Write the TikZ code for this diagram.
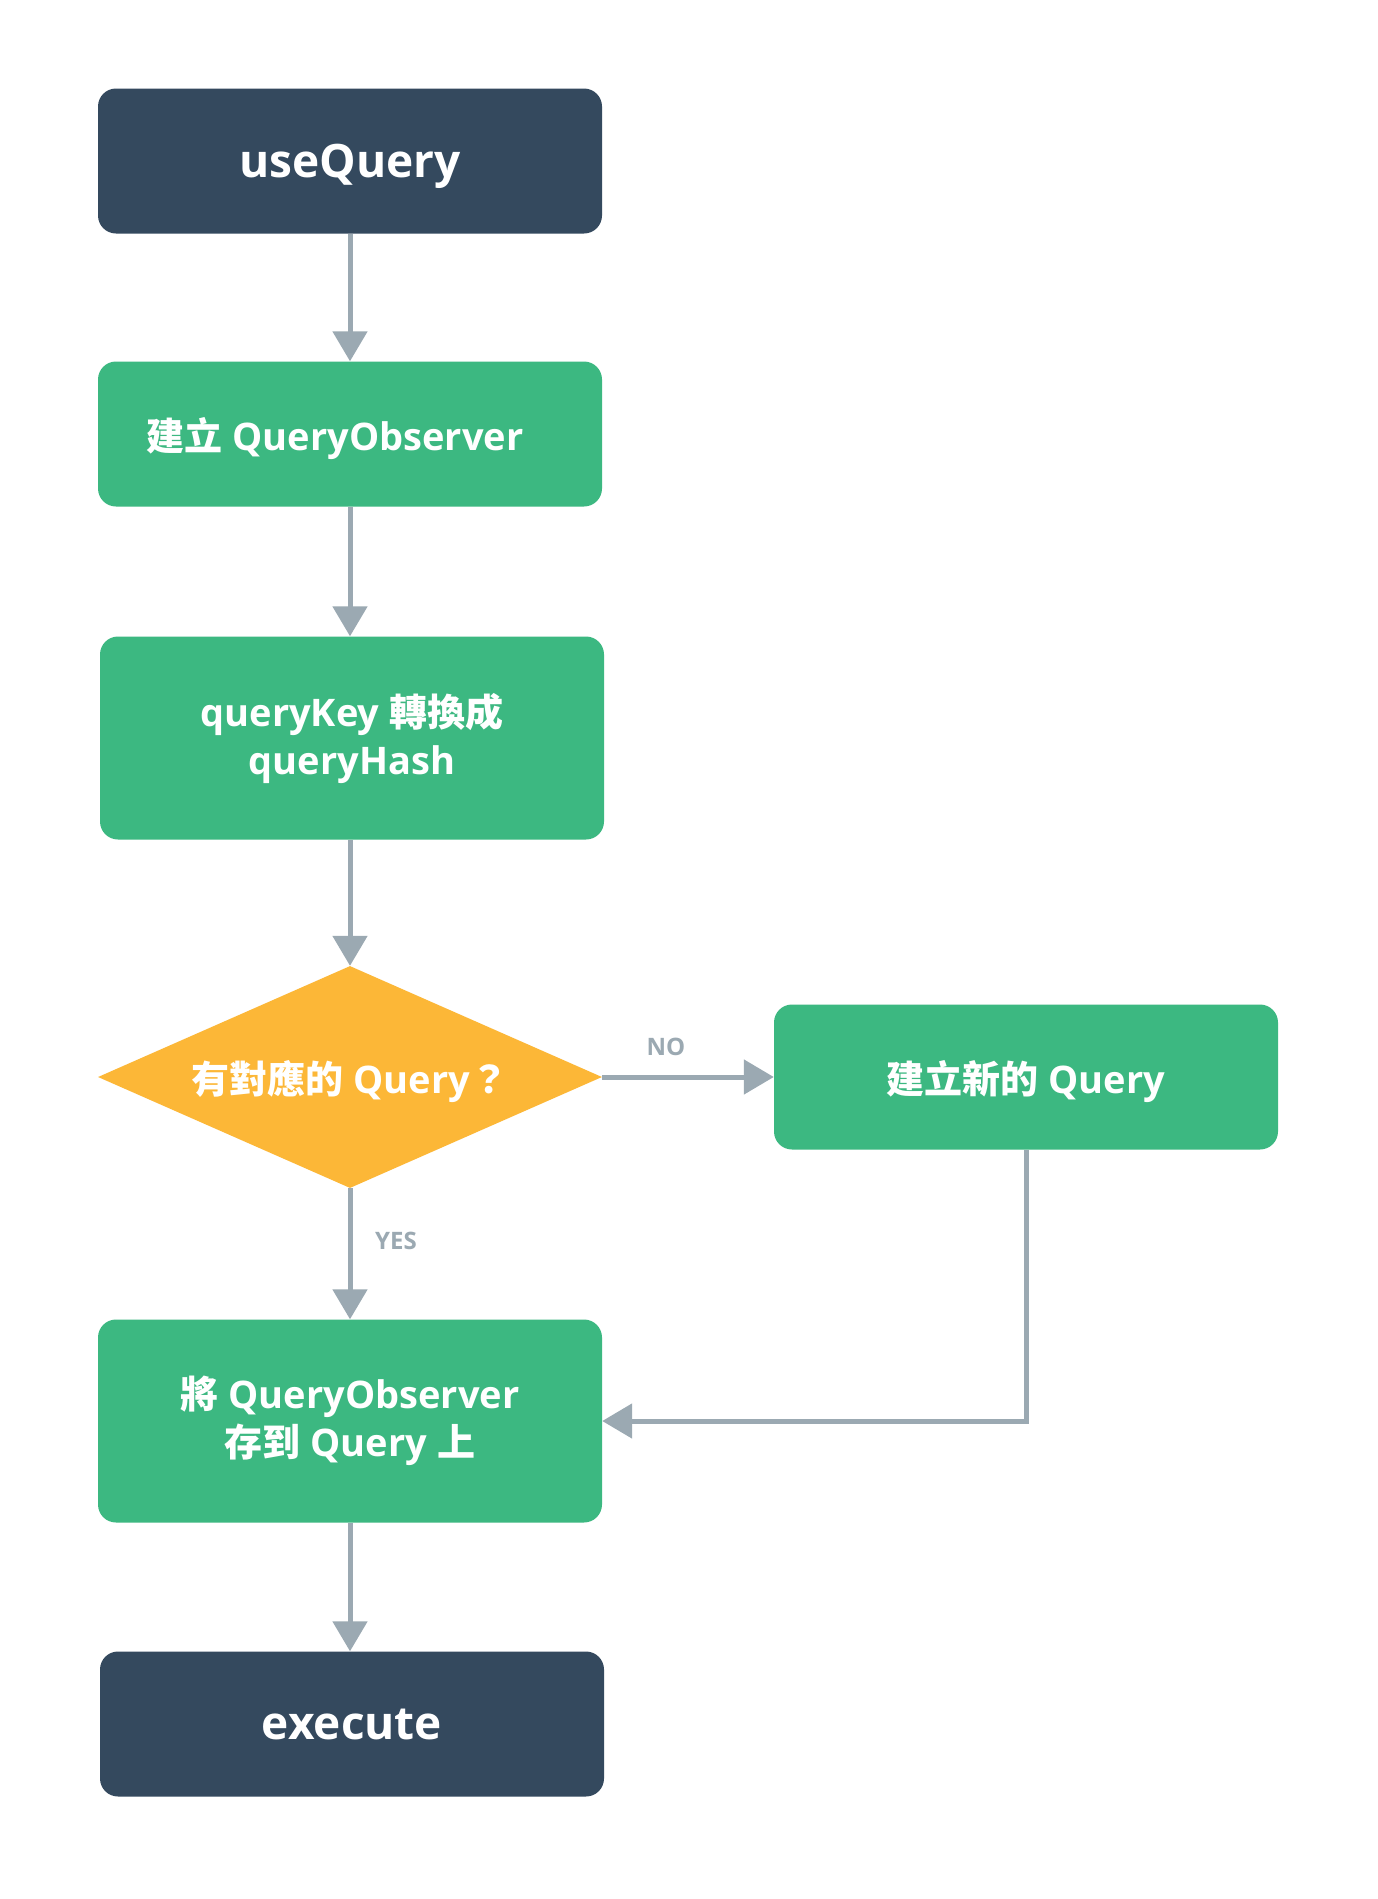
\documentclass[tikz,border=0pt]{standalone}
\usepackage{fontspec}
\setmainfont{Open Sans}
\newfontfamily\cjk{Noto Sans CJK TC Medium}
\usetikzlibrary{arrows.meta,shapes.geometric}
\definecolor{navy}{HTML}{34495E}
\definecolor{leaf}{HTML}{3CB881}
\definecolor{amber}{HTML}{FCB737}
\definecolor{wire}{HTML}{9BA9B2}
\tikzset{
  box/.style={rectangle, rounded corners=18pt, minimum width=504pt, text=white,
    font=\bfseries\fontsize{38}{48}\selectfont, align=center, inner sep=0pt},
  darkbox/.style={box, fill=navy, minimum height=145pt, text depth=0pt,
    font=\bfseries\fontsize{46}{55}\selectfont},
  greenbox/.style={box, fill=leaf},
  decision/.style={diamond, fill=amber, minimum width=504pt, minimum height=222pt,
    aspect=2.27, inner sep=0pt, text=white, text depth=0pt, font=\bfseries\fontsize{38}{48}\selectfont},
  flow/.style={draw=wire, line width=5pt, -{Triangle[width=34pt,length=30pt]}},
  lbl/.style={text=wire, font=\bfseries\fontsize{24}{28}\selectfont, inner sep=0pt}
}
\begin{document}
\begin{tikzpicture}[x=1pt,y=-1pt]
\useasboundingbox[fill=white] (0,0) rectangle (1378,1899);
\node[darkbox] (a) at (350,161) {useQuery};
\node[greenbox, minimum height=145pt, text depth=0pt] (b) at (350,434) {{\cjk 建立} QueryObserver\hspace*{30pt}};
\node[greenbox, minimum height=203pt] (c) at (352,738) {queryKey {\cjk 轉換成}\\queryHash};
\node[decision] (d) at (350,1077) {{\cjk 有對應的} Query{\cjk ？}};
\node[greenbox, minimum height=145pt, text depth=0pt] (e) at (1026,1077) {{\cjk 建立新的} Query};
\node[greenbox, minimum height=203pt] (f) at (350,1421) {{\cjk 將} QueryObserver\\{\cjk 存到} Query {\cjk 上}};
\node[darkbox] (g) at (352,1724) {execute};
\node[lbl] (no) at (666,1047) {NO};
\node[lbl] (yes) at (396,1241) {YES};
\draw[flow] (a.south) -- (b.north);
\draw[flow] (b.south) -- (b.south |- c.north);
\draw[flow] (c.south -| d.north) -- (d.north);
\draw[flow] (d.east) -- (e.west);
\draw[flow] (d.south) -- (f.north);
\draw[flow] (e.south) |- (f.east);
\draw[flow] (f.south) -- (f.south |- g.north);
\end{tikzpicture}
\end{document}
